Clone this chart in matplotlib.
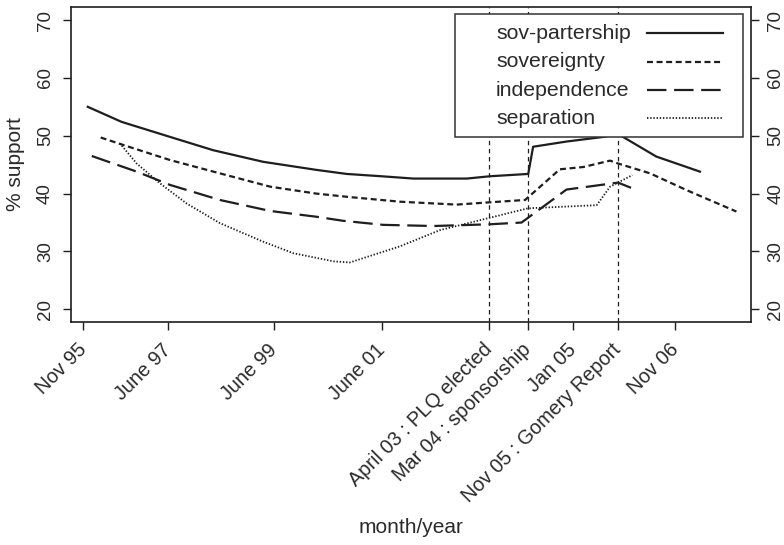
import matplotlib
matplotlib.use("Agg")
import matplotlib.pyplot as plt
from matplotlib.patches import Rectangle
from matplotlib.lines import Line2D

plt.rcParams['font.family'] = ['Liberation Sans', 'DejaVu Sans']
plt.rcParams['lines.scale_dashes'] = False

# x positions: months since Nov 1995 (as placed on the chart's axis)
tick_pos = [0, 19, 42.9, 67.1, 91.2, 100, 110.1, 120.2, 133.1]
tick_labels = ["Nov 95", "June 97", "June 99", "June 01", "April 03 : PLQ elected",
               "Mar 04 : sponsorship", "Jan 05", "Nov 05 : Gomery Report", "Nov 06"]
event_x = [91.2, 100, 120.2]

sovpart_x = [1.0, 8.6, 19.5, 29.2, 40.4, 52.4, 59.2, 67.0, 74.2, 86.2, 91.4, 100.0,
             101.1, 108.6, 116.9, 120.2, 128.8, 138.6]
sovpart_y = [55.0, 52.4, 49.8, 47.5, 45.5, 44.1, 43.4, 43.0, 42.6, 42.6, 43.0, 43.4,
             48.1, 49.0, 49.8, 50.3, 46.4, 43.8]

sovereignty_x = [3.9, 9.0, 19.5, 30.7, 42.0, 52.4, 59.9, 71.2, 83.9, 91.4, 99.3,
                 107.1, 112.4, 118.4, 120.2, 127.4, 135.6, 146.8]
sovereignty_y = [49.7, 48.4, 45.8, 43.5, 41.2, 40.0, 39.4, 38.6, 38.1, 38.5, 38.9,
                 44.2, 44.6, 45.7, 45.2, 43.5, 40.6, 36.9]

independence_x = [1.9, 12.0, 19.5, 30.7, 42.0, 52.4, 58.4, 67.4, 78.7, 91.4, 98.5,
                  108.6, 120.2, 124.4]
independence_y = [46.5, 43.8, 41.5, 38.9, 37.0, 36.0, 35.3, 34.6, 34.4, 34.7, 35.0,
                  40.7, 41.9, 40.6]

separation_x = [8.2, 12.0, 17.2, 23.2, 30.7, 40.4, 47.2, 56.2, 59.9, 71.2, 80.2, 90.7,
                99.6, 101.1, 115.4, 118.4, 123.4]
separation_y = [48.7, 45.2, 41.8, 38.3, 34.9, 31.7, 29.7, 28.3, 28.1, 30.9, 33.7, 35.7,
                37.4, 37.5, 38.0, 41.2, 43.2]

series_names = ['sov-partership', 'sovereignty', 'independence', 'separation']

yticks = [20, 30, 40, 50, 60, 70]

ink = '#1e1e1e'
txt = '#2a2a2a'
styles = [
    dict(lw=1.6, ls='-'),
    dict(lw=1.6, ls=(0, (4.3, 2.6))),
    dict(lw=1.6, ls=(0, (14, 5.5))),
    dict(lw=1.3, ls=(0, (1.0, 1.3))),
]

fig = plt.figure(figsize=(7.84, 5.45), dpi=100)
ax = fig.add_axes([0.0902, 0.4097, 0.8673, 0.5769])

data = [(sovpart_x, sovpart_y), (sovereignty_x, sovereignty_y),
        (independence_x, independence_y), (separation_x, separation_y)]
for (xs, ys), st, name in zip(data, styles, series_names):
    ax.plot(xs, ys, color=ink, zorder=3, label=name, **st)

for ex in event_x:
    ax.axvline(ex, color=ink, lw=0.9, ls=(0, (3.2, 2.6)), zorder=2)

ax.set_xlim(-2.83, 150.0)
ax.set_ylim(17.86, 72.2)

ax.set_xticks(tick_pos)
ax.set_xticklabels(tick_labels, rotation=45, ha='right', va='center',
                   rotation_mode='anchor', fontsize=14.3, color=txt)
ax.set_yticks(yticks)
ax.set_yticklabels([str(v) for v in yticks], fontsize=13.5, color=txt)
ax.tick_params(axis='y', right=True, labelright=True, labelrotation=90,
               length=6, width=1, color=ink, pad=6)
ax.tick_params(axis='x', length=6, width=1, color=ink, pad=12)
for lab in ax.get_yticklabels():
    lab.set_va('center')

for s in ax.spines.values():
    s.set_color(ink)
    s.set_linewidth(1.2)

ax.set_xlabel('month/year', fontsize=15, color=txt)
ax.set_ylabel('% support', fontsize=15, color=txt)
ax.xaxis.set_label_coords(0.5, -0.625)
ax.yaxis.set_label_coords(-0.0672, 0.5)

# legend (box, labels, key samples) in axes coordinates
box = Rectangle((0.5651, 0.5887), 0.4240, 0.3893, transform=ax.transAxes,
                facecolor='white', edgecolor='#333333', lw=1.1, zorder=5)
ax.add_patch(box)
row_y = [0.9173, 0.8270, 0.7367, 0.6469]
for name, st, ry in zip(series_names, styles, row_y):
    ax.text(0.6254, ry, name, transform=ax.transAxes, fontsize=15.3, color=txt,
            ha='left', va='center', zorder=6)
    ax.add_line(Line2D([0.8471, 0.9597], [ry, ry], transform=ax.transAxes,
                       color=ink, zorder=6, **st))

fig.savefig('out.png', dpi=100)
